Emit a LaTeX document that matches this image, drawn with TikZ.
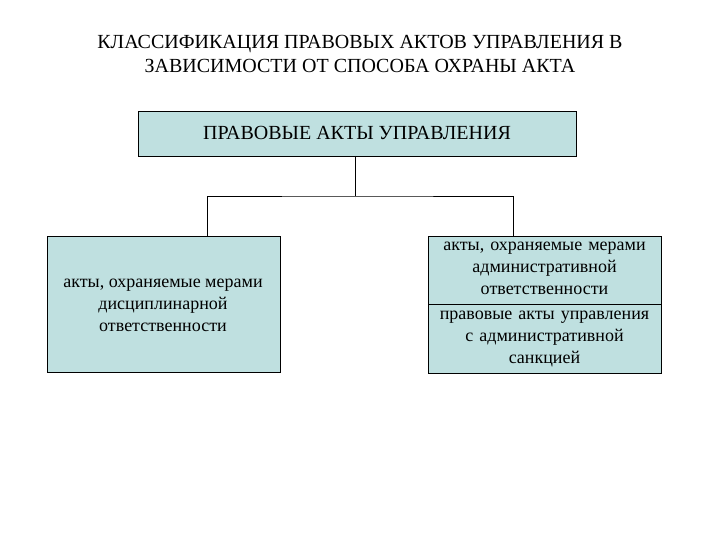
\documentclass[tikz,border=0pt]{standalone}
\usepackage{fontspec}
\setmainfont{Liberation Serif}
\begin{document}
\begin{tikzpicture}[x=1pt,y=-1pt,
  box/.style={draw,fill=boxc,line width=0.8pt},
  txt/.style={align=center,font=\fontsize{18}{22}\selectfont,inner sep=0pt},
  ln/.style={line width=0.8pt}]
\definecolor{boxc}{HTML}{BFE0E0}
\useasboundingbox (0,0) rectangle (720,540);
\node[txt,font=\fontsize{20}{24}\selectfont] (title) at (360,54) {КЛАССИФИКАЦИЯ ПРАВОВЫХ АКТОВ УПРАВЛЕНИЯ В\\ЗАВИСИМОСТИ ОТ СПОСОБА ОХРАНЫ АКТА};
\draw[box] (138,111) rectangle (576,156);
\node[txt,font=\fontsize{20}{24}\selectfont] (top) at (357,133) {ПРАВОВЫЕ АКТЫ УПРАВЛЕНИЯ};
\draw[box] (47,236) rectangle (280,372);
\node[txt] (left) at (163,305) {акты, охраняемые мерами\\дисциплинарной\\ответственности};
\draw[box] (428,236) rectangle (661,373);
\draw[ln] (428,304) -- (661,304);
\node[txt,text width=233pt] (r1) at (544.5,268) {акты, охраняемые мерами\\административной\\ответственности};
\node[txt,text width=233pt] (r2) at (544.5,339) {правовые акты управления\\с административной\\санкцией};
\coordinate (j) at (355,196);
\draw[ln] (355,156) -- (j);
\draw[ln] (207,236) |- (j) -| (513,236);
\end{tikzpicture}
\end{document}
